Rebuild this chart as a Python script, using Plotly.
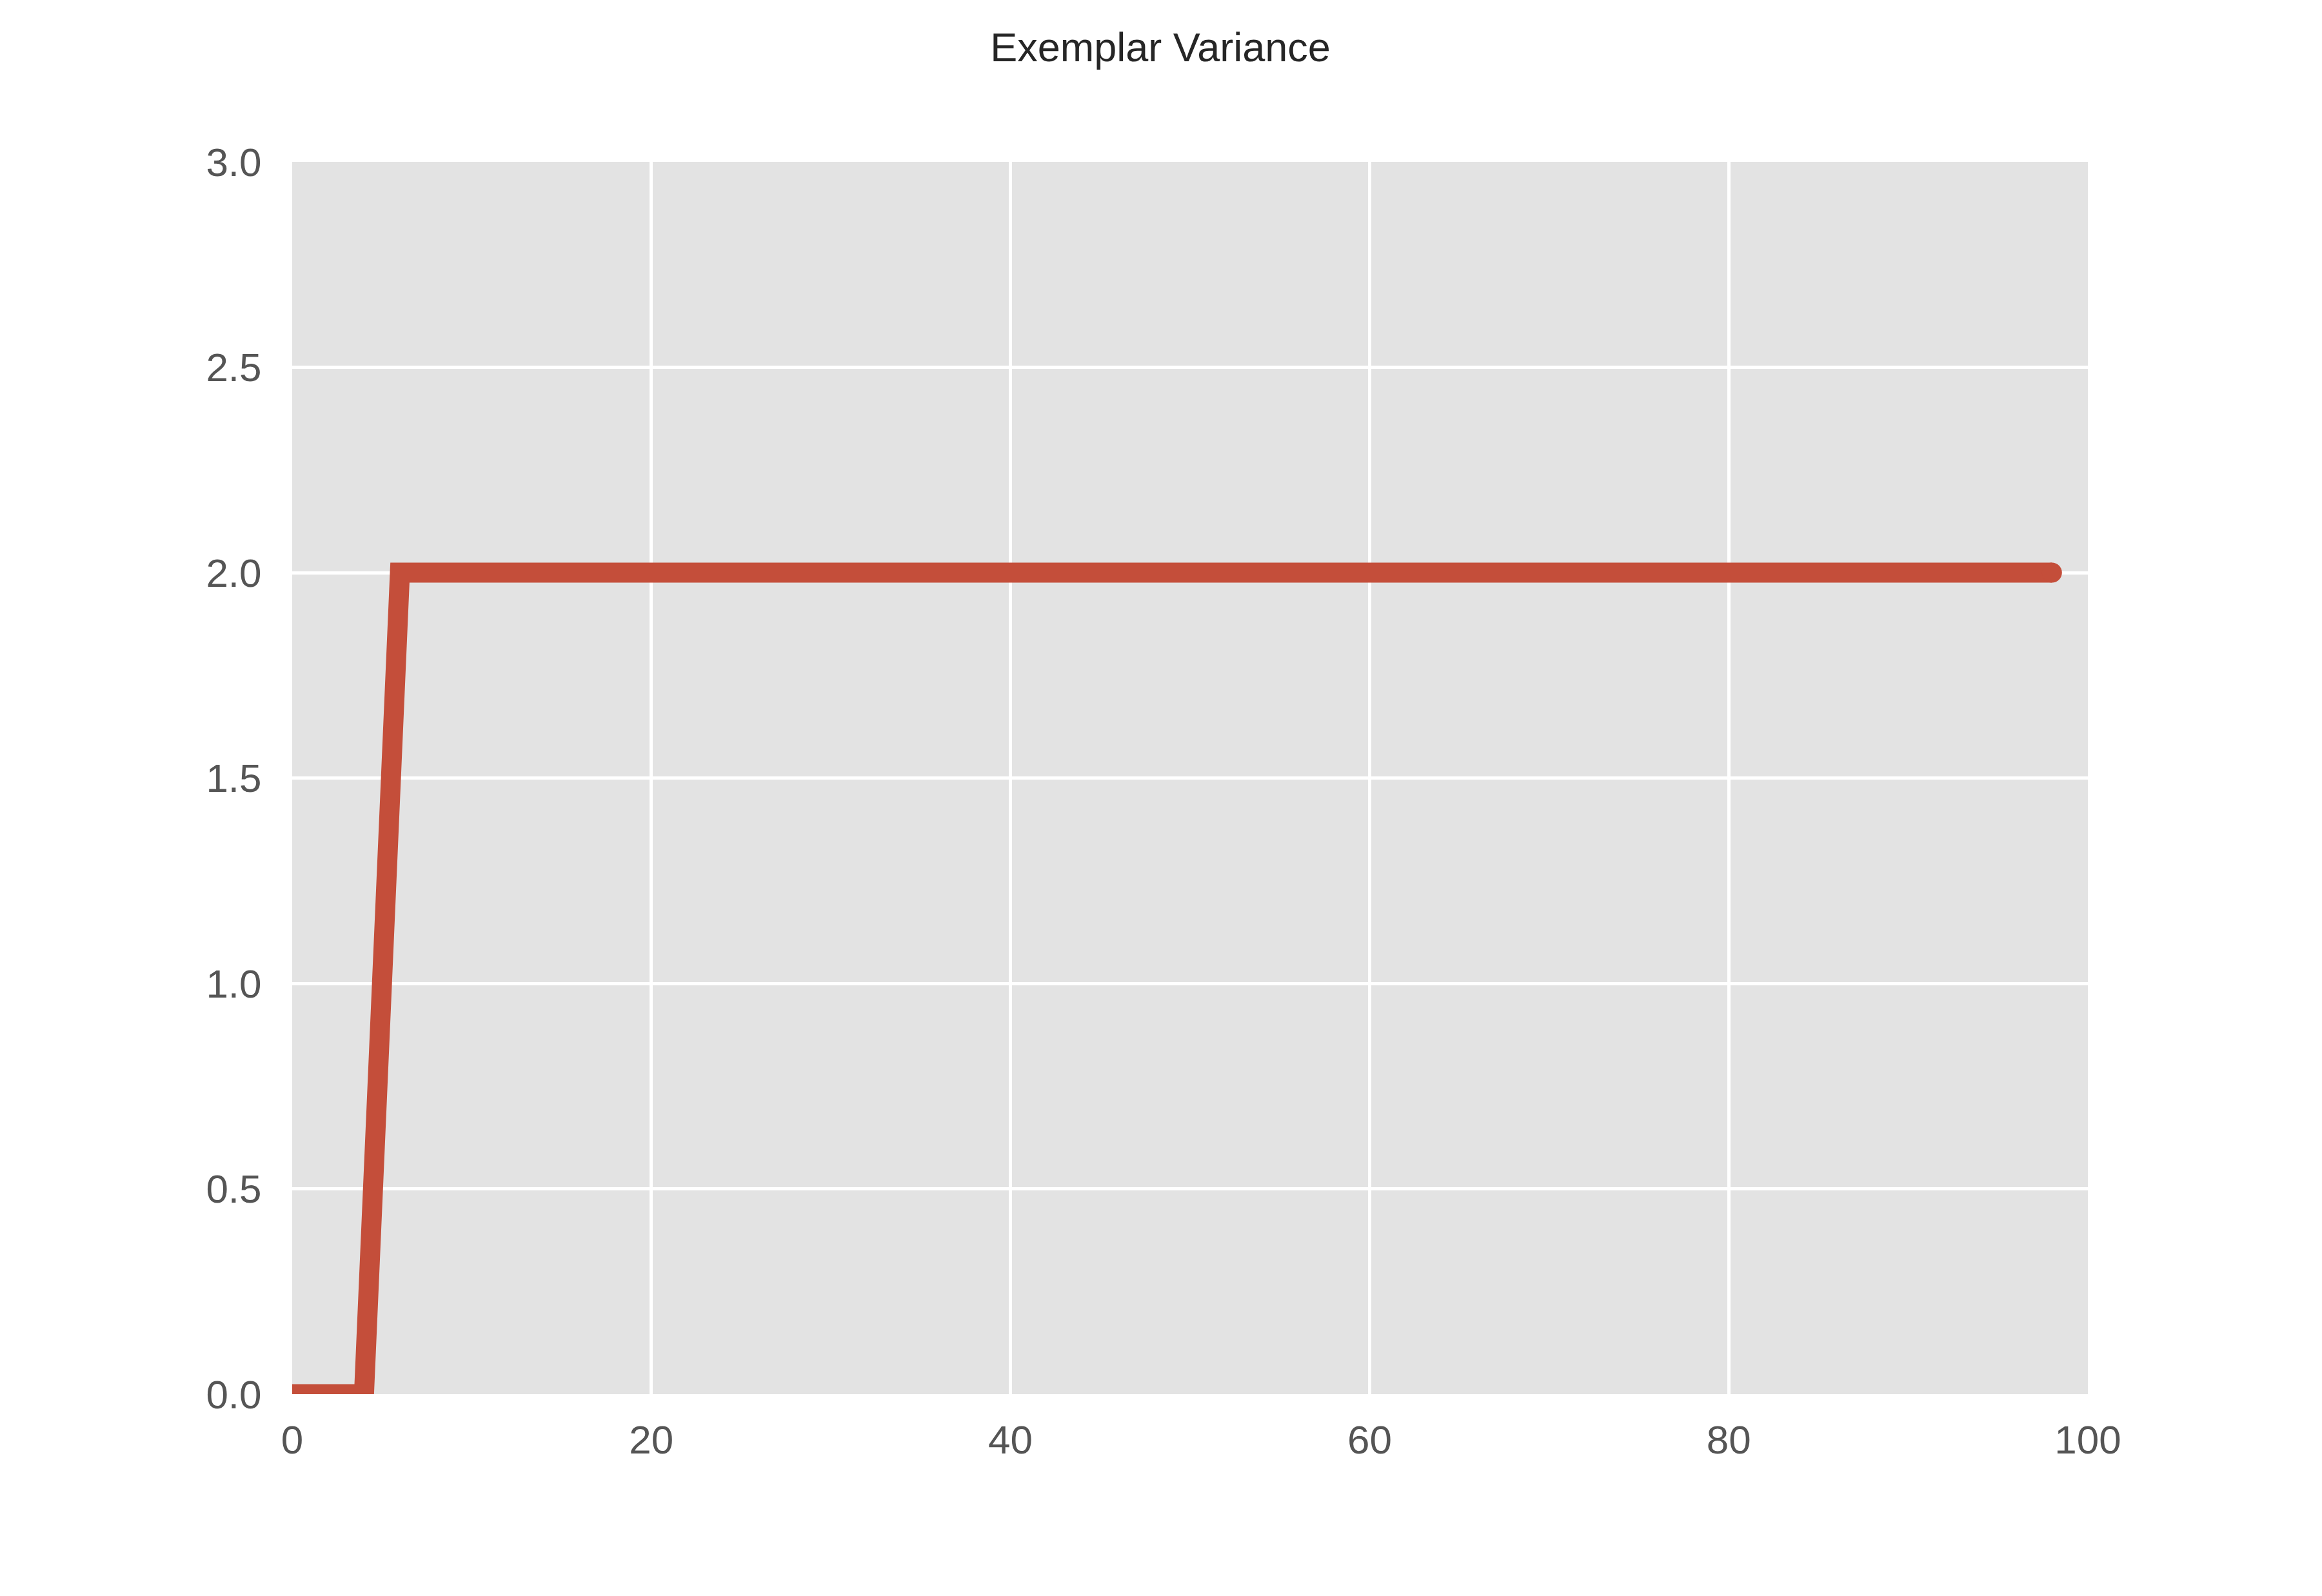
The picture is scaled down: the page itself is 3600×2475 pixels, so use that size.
import plotly.graph_objects as go

x_vals = list(range(0, 100, 2))
y_vals = [0, 0, 0] + [2] * 47

title_text = "Exemplar Variance"
x_ticks = [0, 20, 40, 60, 80, 100]
y_ticks = [0.0, 0.5, 1.0, 1.5, 2.0, 2.5, 3.0]

LINE_COLOR = "#C44E3A"

fig = go.Figure()
fig.add_trace(go.Scatter(
    x=x_vals, y=y_vals, mode="lines",
    line=dict(color=LINE_COLOR, width=31),
    showlegend=False,
))
# round cap at the line end
fig.add_trace(go.Scatter(
    x=[x_vals[-1]], y=[y_vals[-1]], mode="markers",
    marker=dict(color=LINE_COLOR, size=31, line=dict(width=0)),
    showlegend=False,
))

fig.update_layout(
    width=3600, height=2475,
    margin=dict(l=445, r=371, t=243, b=321),
    paper_bgcolor="white",
    plot_bgcolor="#E3E3E3",
    font=dict(family="Liberation Sans, Arial, sans-serif", size=62, color="#555555"),
    title=dict(text=title_text, x=0.4975, xanchor="center", y=1 - 65 / 2475, yanchor="middle",
               font=dict(size=63, color="#262626")),
    xaxis=dict(range=[0, 100], tickvals=x_ticks, ticktext=[str(v) for v in x_ticks],
               showgrid=True, gridcolor="white", gridwidth=5, zeroline=False,
               ticks="outside", ticklen=17, tickcolor="rgba(0,0,0,0)", showline=False),
    yaxis=dict(range=[0, 3], tickvals=y_ticks, ticktext=[f"{v:.1f}" for v in y_ticks],
               showgrid=True, gridcolor="white", gridwidth=5, zeroline=False,
               ticks="outside", ticklen=34, tickcolor="rgba(0,0,0,0)", showline=False),
)

fig.write_html("out.html")
